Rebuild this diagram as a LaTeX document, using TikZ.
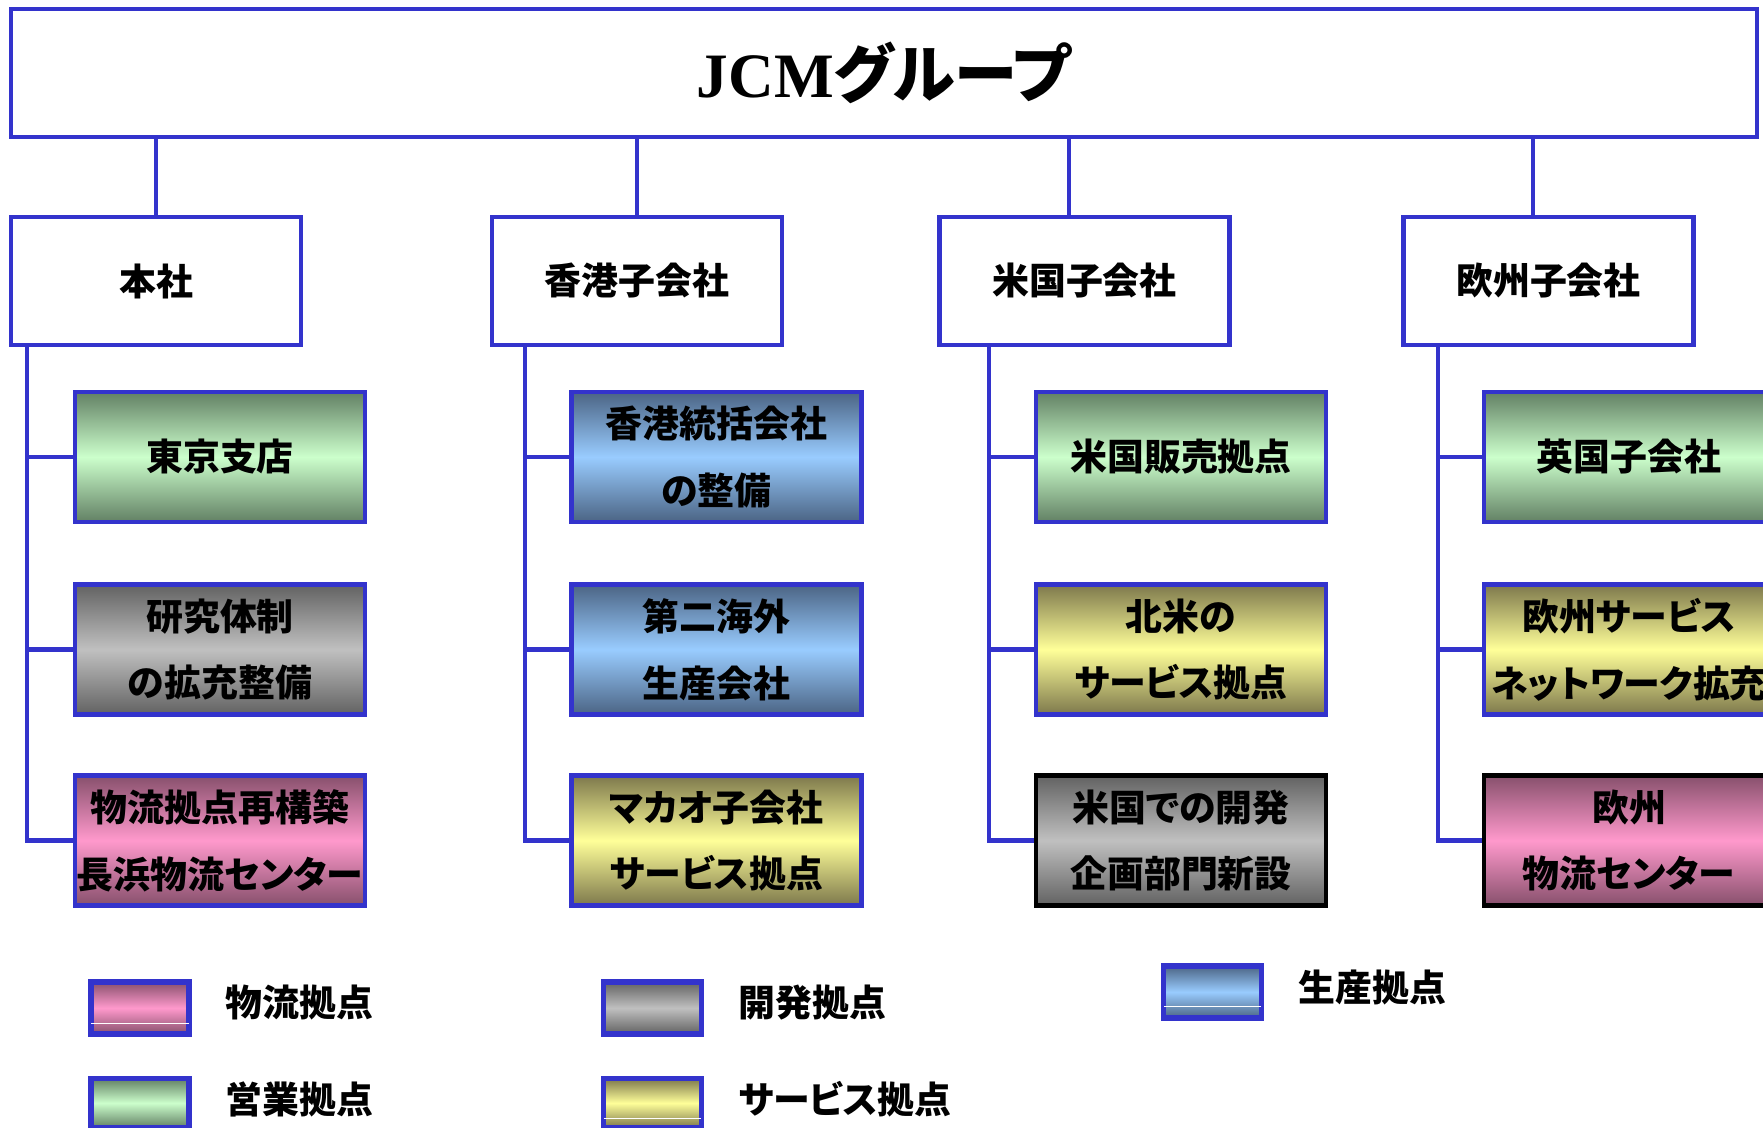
\documentclass[tikz,border=0pt]{standalone}
\usepackage{fontspec}
\setmainfont{Liberation Serif}
\newfontfamily\jp{Noto Sans CJK JP}[RawFeature=+palt]
\definecolor{bl}{RGB}{51,51,204}
\definecolor{gD}{RGB}{98,128,100}
\definecolor{gL}{RGB}{204,255,204}
\definecolor{bD}{RGB}{75,100,132}
\definecolor{bL}{RGB}{153,204,255}
\definecolor{kD}{RGB}{98,98,98}
\definecolor{kL}{RGB}{192,192,192}
\definecolor{pD}{RGB}{135,80,108}
\definecolor{pL}{RGB}{255,153,204}
\definecolor{yD}{RGB}{125,120,76}
\definecolor{yL}{RGB}{255,255,153}
\tikzset{
  jpt/.style={font=\jp\bfseries\fontsize{21pt}{38pt}\selectfont, align=center, text=black},
  topbox/.style={draw=bl, line width=2.6pt, fill=white, minimum width=34.92cm, minimum height=2.56cm, inner sep=0pt},
  lvbox/.style={draw=bl, line width=2.6pt, fill=white, minimum width=5.8cm, minimum height=2.56cm, inner sep=0pt, jpt},
  chbox/.style 2 args={draw=bl, line width=2.6pt, top color=#1, bottom color=#1, middle color=#2, minimum width=5.8cm, minimum height=2.6cm, inner sep=0pt, jpt},
  green/.style={chbox={gD}{gL}},
  blues/.style={chbox={bD}{bL}},
  grays/.style={chbox={kD}{kL}},
  pinks/.style={chbox={pD}{pL}},
  yell/.style={chbox={yD}{yL}},
  blk/.style={draw=black},
  conn/.style={draw=bl, line width=2.3pt},
  swatch/.style 2 args={draw=bl, line width=3.1pt, top color=#1, bottom color=#1, middle color=#2, minimum width=1.96cm, minimum height=1.04cm, inner sep=0pt},
  lgtext/.style={jpt, anchor=west, inner sep=0pt},
  wl/.style={draw=white, line width=0.7pt}
}
\begin{document}
\begin{tikzpicture}[x=0.02cm, y=-0.02cm]
\useasboundingbox (0,0) rectangle (1763,1128);
\clip (0,0) rectangle (1763,1128);
% top
\node[topbox] (top) at (884,73) {\fontsize{36pt}{40pt}\selectfont\bfseries JCM{\jp グループ}};
% level 2
\node[lvbox] (hq) at (156,281) {本社};
\node[lvbox] (hk) at (637,281) {香港子会社};
\node[lvbox] (us) at (1084.5,281) {米国子会社};
\node[lvbox] (eu) at (1548.5,281) {欧州子会社};
% children
\node[green] (hq1) at (220,457) {東京支店};
\node[grays] (hq2) at (220,649.5) {研究体制\\の拡充整備};
\node[pinks] (hq3) at (220,840.5) {物流拠点再構築\\長浜物流センター};
\node[blues] (hk1) at (716.5,457) {香港統括会社\\の整備};
\node[blues] (hk2) at (716.5,649.5) {第二海外\\生産会社};
\node[yell] (hk3) at (716.5,840.5) {マカオ子会社\\サービス拠点};
\node[green] (us1) at (1181,457) {米国販売拠点};
\node[yell] (us2) at (1181,649.5) {北米の\\サービス拠点};
\node[grays,blk] (us3) at (1181,840.5) {米国での開発\\企画部門新設};
\node[green] (eu1) at (1629,457) {英国子会社};
\node[yell] (eu2) at (1629,649.5) {欧州サービス\\ネットワーク拡充};
\node[pinks,blk] (eu3) at (1629,840.5) {欧州\\物流センター};
% connectors top -> level 2
\coordinate (usc) at ([xshift=-0.32cm]us.north);
\coordinate (euc) at ([xshift=-0.32cm]eu.north);
\draw[conn] (top.south -| hq.north) -- (hq.north);
\draw[conn] (top.south -| hk.north) -- (hk.north);
\draw[conn] (top.south -| usc) -- (usc);
\draw[conn] (top.south -| euc) -- (euc);
% trunks
\coordinate (hqt) at ([xshift=0.37cm]hq.south west);
\coordinate (hkt) at ([xshift=0.71cm]hk.south west);
\coordinate (ust) at ([xshift=1.03cm]us.south west);
\coordinate (eut) at ([xshift=0.73cm]eu.south west);
\foreach \t/\a/\b/\c in {hqt/hq1/hq2/hq3, hkt/hk1/hk2/hk3, ust/us1/us2/us3, eut/eu1/eu2/eu3}{
  \draw[conn] (\t) |- (\c.west);
  \draw[conn] (\t |- \a.west) -- (\a.west);
  \draw[conn] (\t |- \b.west) -- (\b.west);
}
% legend
\node[swatch={pD}{pL}] (lg1) at (140,1008) {};
\node[swatch={kD}{kL}] (lg2) at (652.5,1008) {};
\node[swatch={bD}{bL}] (lg3) at (1212.5,992) {};
\node[swatch={gD}{gL}, minimum height=0.98cm] (lg4) at (140,1103) {};
\node[swatch={yD}{yL}, minimum height=0.98cm] (lg5) at (652.5,1103) {};
\draw[wl] ([xshift=0.06cm,yshift=0.26cm]lg1.south west) -- ([xshift=-0.06cm,yshift=0.26cm]lg1.south east);
\draw[wl] ([xshift=0.06cm,yshift=0.28cm]lg3.south west) -- ([xshift=-0.06cm,yshift=0.28cm]lg3.south east);
\draw[wl] ([xshift=0.06cm,yshift=0.24cm]lg5.south west) -- ([xshift=-0.06cm,yshift=0.24cm]lg5.south east);
\node[lgtext] (lt1) at (225,1003) {物流拠点};
\node[lgtext] (lt2) at (738,1003) {開発拠点};
\node[lgtext] (lt3) at (1298,987) {生産拠点};
\node[lgtext] (lt4) at (225,1099) {営業拠点};
\node[lgtext] (lt5) at (738,1099) {サービス拠点};
\end{tikzpicture}
\end{document}
